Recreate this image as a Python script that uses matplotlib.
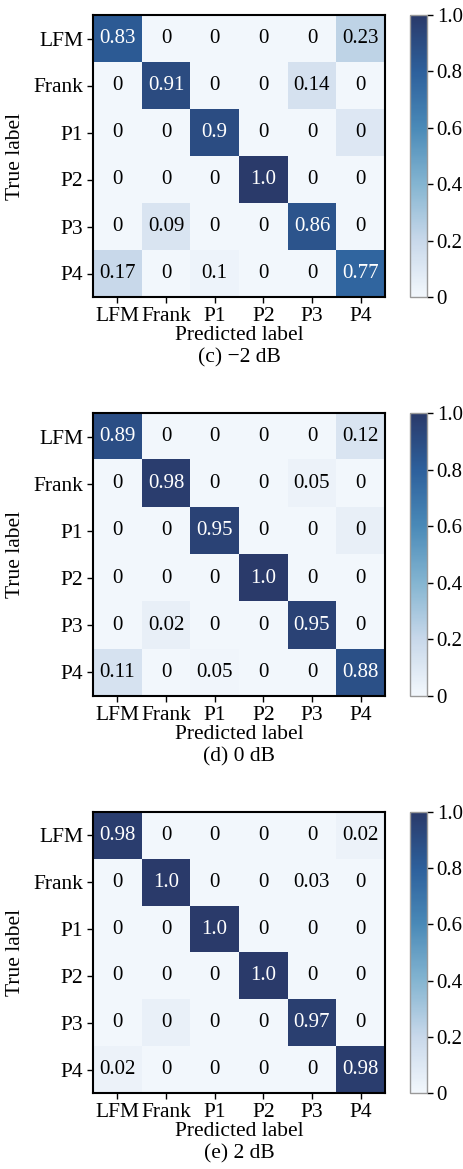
import numpy as np
import matplotlib
matplotlib.use("Agg")
import matplotlib.pyplot as plt
from matplotlib.colors import LinearSegmentedColormap

classes = ["LFM", "Frank", "P1", "P2", "P3", "P4"]
titles = ["(c) \u22122 dB", "(d) 0 dB", "(e) 2 dB"]

# displayed values
shown_c = [["0.83", "0", "0", "0", "0", "0.23"],
           ["0", "0.91", "0", "0", "0.14", "0"],
           ["0", "0", "0.9", "0", "0", "0"],
           ["0", "0", "0", "1.0", "0", "0"],
           ["0", "0.09", "0", "0", "0.86", "0"],
           ["0.17", "0", "0.1", "0", "0", "0.77"]]
shown_d = [["0.89", "0", "0", "0", "0", "0.12"],
           ["0", "0.98", "0", "0", "0.05", "0"],
           ["0", "0", "0.95", "0", "0", "0"],
           ["0", "0", "0", "1.0", "0", "0"],
           ["0", "0.02", "0", "0", "0.95", "0"],
           ["0.11", "0", "0.05", "0", "0", "0.88"]]
shown_e = [["0.98", "0", "0", "0", "0", "0.02"],
           ["0", "1.0", "0", "0", "0.03", "0"],
           ["0", "0", "1.0", "0", "0", "0"],
           ["0", "0", "0", "1.0", "0", "0"],
           ["0", "0", "0", "0", "0.97", "0"],
           ["0.02", "0", "0", "0", "0", "0.98"]]

# colour values (estimated from cell shading)
vals_c = [[0.83, 0, 0, 0, 0, 0.23],
          [0, 0.91, 0, 0, 0.14, 0],
          [0, 0, 0.90, 0, 0, 0.10],
          [0, 0, 0, 1.0, 0, 0],
          [0, 0.12, 0, 0, 0.86, 0],
          [0.20, 0, 0.02, 0, 0, 0.77]]
vals_d = [[0.89, 0, 0, 0, 0, 0.12],
          [0, 0.98, 0, 0, 0.03, 0],
          [0, 0, 0.95, 0, 0, 0.05],
          [0, 0, 0, 1.0, 0, 0],
          [0, 0.05, 0, 0, 0.95, 0],
          [0.13, 0, 0.01, 0, 0, 0.88]]
vals_e = [[0.98, 0, 0, 0, 0, 0.03],
          [0, 1.0, 0, 0, 0.0, 0],
          [0, 0, 1.0, 0, 0, 0],
          [0, 0, 0, 1.0, 0, 0],
          [0, 0.04, 0, 0, 0.97, 0],
          [0.03, 0, 0, 0, 0, 0.98]]

plt.rcParams['font.family'] = ['Liberation Serif', 'DejaVu Serif']

cmap = LinearSegmentedColormap.from_list(
    "cm", [(0.0, "#f2f7fc"), (0.2, "#c8d8ea"), (0.4, "#84b5d1"),
           (0.6, "#4a8ab8"), (0.8, "#2d609c"), (1.0, "#2a3a6a")])

W, H = 464, 1169
fig = plt.figure(figsize=(W / 100, H / 100), dpi=100)

panels = [(vals_c, shown_c, 15, 297), (vals_d, shown_d, 413, 696), (vals_e, shown_e, 812, 1093)]
fs_ann = 15
fs_tick = 15.5
fs_lab = 15.5
for (vals, shown, top, bot), title in zip(panels, titles):
    ax = fig.add_axes([93 / W, 1 - bot / H, (385 - 93) / W, (bot - top) / H])
    cax = fig.add_axes([410 / W, 1 - bot / H, (427 - 410) / W, (bot - top) / H])
    arr = np.array(vals)
    im = ax.imshow(arr, cmap=cmap, vmin=0, vmax=1, aspect='auto')
    for i in range(6):
        for j in range(6):
            c = 'white' if arr[i, j] > 0.5 else 'black'
            ax.text(j, i, shown[i][j], ha='center', va='center', color=c, fontsize=fs_ann)
    ax.set_xticks(range(6))
    ax.set_yticks(range(6))
    ax.set_xticklabels(classes, fontsize=fs_tick)
    ax.set_yticklabels(classes, fontsize=fs_tick)
    ax.tick_params(axis='x', length=4, width=1, pad=3)
    ax.tick_params(axis='y', length=4, width=1, pad=3)
    for s in ax.spines.values():
        s.set_linewidth(1.5)
    ax.set_xlabel("Predicted label\n" + title, fontsize=fs_lab, labelpad=0, linespacing=1.25)
    ax.set_ylabel("True label", fontsize=fs_lab, labelpad=6)
    cb = fig.colorbar(im, cax=cax)
    cb.set_ticks([0, 0.2, 0.4, 0.6, 0.8, 1.0])
    cb.set_ticklabels(["0", "0.2", "0.4", "0.6", "0.8", "1.0"])
    cb.ax.tick_params(labelsize=fs_ann, length=4, width=1, pad=3)
    cb.outline.set_edgecolor('#999999')
    cb.outline.set_linewidth(1)

fig.savefig("out.png", dpi=100)
